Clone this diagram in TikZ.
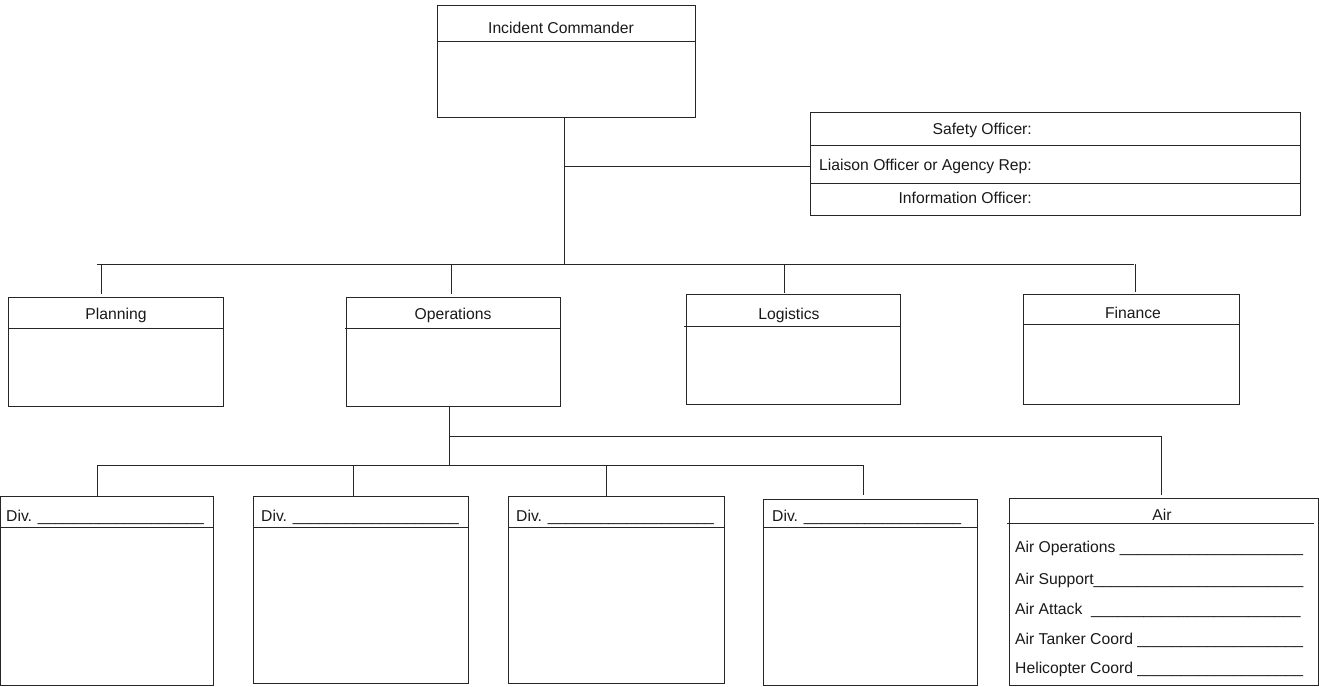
\documentclass[tikz,border=0pt]{standalone}
\usepackage{fontspec}
\setmainfont{Liberation Sans}
\begin{document}
\begin{tikzpicture}[x=1pt,y=-1pt,
  box/.style={draw=black!85,line width=0.9pt,rectangle,inner sep=0pt,outer sep=0pt,anchor=north west},
  ln/.style={draw=black!85,line width=0.9pt},
  lbl/.style={inner sep=0pt,font=\fontsize{15.7}{18}\selectfont,text=black!90}]
\useasboundingbox (0,0) rectangle (1319,686);
% boxes
\node[box,minimum width=258pt,minimum height=112pt] (ic) at (437,5) {};
\node[box,minimum width=490pt,minimum height=103pt] (off) at (810,112) {};
\node[box,minimum width=215pt,minimum height=109pt] (plan) at (8,297) {};
\node[box,minimum width=214pt,minimum height=109pt] (ops) at (346,297) {};
\node[box,minimum width=214pt,minimum height=110pt] (log) at (686,294) {};
\node[box,minimum width=216pt,minimum height=110pt] (fin) at (1023,294) {};
\node[box,minimum width=213pt,minimum height=189pt] (d1) at (0.5,496) {};
\node[box,minimum width=215pt,minimum height=187pt] (d2) at (253,496) {};
\node[box,minimum width=216pt,minimum height=187pt] (d3) at (508,496) {};
\node[box,minimum width=214pt,minimum height=186pt] (d4) at (763,499) {};
\node[box,minimum width=309pt,minimum height=187pt] (air) at (1009,498) {};
% dividers
\draw[ln] (ic.west |- 0,41) -- (ic.east |- 0,41);
\draw[ln] (off.west |- 0,145) -- (off.east |- 0,145);
\draw[ln] (off.west |- 0,183) -- (off.east |- 0,183);
\draw[ln] (plan.west |- 0,328) -- (plan.east |- 0,328);
\draw[ln] ([xshift=-1pt]ops.west |- 0,328) -- (ops.east |- 0,328);
\draw[ln] ([xshift=-2pt]log.west |- 0,326) -- (log.east |- 0,326);
\draw[ln] (fin.west |- 0,324) -- (fin.east |- 0,324);
\draw[ln] (d1.west |- 0,527) -- (d1.east |- 0,527);
\draw[ln] (d2.west |- 0,527) -- (d2.east |- 0,527);
\draw[ln] (d3.west |- 0,527) -- (d3.east |- 0,527);
\draw[ln] (d4.west |- 0,527) -- (d4.east |- 0,527);
\draw[ln] ([xshift=-2pt]air.west |- 0,523) -- ([xshift=-4pt]air.east |- 0,523);
% texts
\node[lbl] (tic) at (561,28) {Incident Commander};
\node[lbl,anchor=east] (tsaf) at (1032,130) {Safety Officer:};
\node[lbl,anchor=east] (tlia) at (1032,166) {Liaison Officer or Agency Rep:};
\node[lbl,anchor=east] (tinf) at (1032,198) {Information Officer:};
\node[lbl] (tplan) at (116,315) {Planning};
\node[lbl] (tops) at (453,315) {Operations};
\node[lbl] (tlog) at (789,315) {Logistics};
\node[lbl] (tfin) at (1133,313) {Finance};
\node[lbl,anchor=west] (td1) at (6,517) {Div. \_\_\_\_\_\_\_\_\_\_\_\_\_\_\_\_\_\_\_};
\node[lbl,anchor=west] (td2) at (261,517) {Div. \_\_\_\_\_\_\_\_\_\_\_\_\_\_\_\_\_\_\_};
\node[lbl,anchor=west] (td3) at (516,517) {Div. \_\_\_\_\_\_\_\_\_\_\_\_\_\_\_\_\_\_\_};
\node[lbl,anchor=west] (td4) at (772,517) {Div. \_\_\_\_\_\_\_\_\_\_\_\_\_\_\_\_\_\_};
\node[lbl] (tair) at (1162,515) {Air};
\node[lbl,anchor=west] (ta1) at (1015,548) {Air Operations \_\_\_\_\_\_\_\_\_\_\_\_\_\_\_\_\_\_\_\_\_};
\node[lbl,anchor=west] (ta2) at (1015,580) {Air Support\_\_\_\_\_\_\_\_\_\_\_\_\_\_\_\_\_\_\_\_\_\_\_\_};
\node[lbl,anchor=west] (ta3) at (1015,610) {Air Attack \ \_\_\_\_\_\_\_\_\_\_\_\_\_\_\_\_\_\_\_\_\_\_\_\_};
\node[lbl,anchor=west] (ta4) at (1015,640) {Air Tanker Coord \_\_\_\_\_\_\_\_\_\_\_\_\_\_\_\_\_\_\_};
\node[lbl,anchor=west] (ta5) at (1015,669) {Helicopter Coord \_\_\_\_\_\_\_\_\_\_\_\_\_\_\_\_\_\_\_};
% connectors
\coordinate (icb) at (564,117);
\coordinate (bus) at (564,264);
\coordinate (offj) at (564,166);
\coordinate (busL) at (97,264);
\coordinate (busR) at (1134,264);
\coordinate (kplan) at (101,264);
\coordinate (kops) at (451,264);
\coordinate (klog) at (784,264);
\coordinate (kfin) at (1135,264);
\draw[ln] (icb) -- (bus);
\draw[ln] (offj) -- (offj -| off.west);
\draw[ln] (busL) -- (busR);
\draw[ln] (kplan) -- ([yshift=3pt]kplan |- plan.north);
\draw[ln] (kops) -- ([yshift=3pt]kops |- ops.north);
\draw[ln] (klog) -- ([yshift=1pt]klog |- log.north);
\draw[ln] (kfin) -- ([yshift=2pt]kfin |- fin.north);
\coordinate (opsb) at (449,406);
\coordinate (airj) at (449,436);
\coordinate (lbus) at (449,465);
\coordinate (lbusL) at (97,465);
\coordinate (lbusR) at (863,465);
\coordinate (k2) at (353,465);
\coordinate (k3) at (606,465);
\draw[ln] (opsb) -- (lbus);
\draw[ln] (airj) -| ([yshift=3pt]air.north -| 1161,0);
\draw[ln] (lbusL) -- (lbusR);
\draw[ln] (lbusL) -- (lbusL |- d1.north);
\draw[ln] (k2) -- (k2 |- d2.north);
\draw[ln] (k3) -- (k3 |- d3.north);
\draw[ln] (lbusR) -- ([yshift=4pt]lbusR |- d4.north);
\end{tikzpicture}
\end{document}
